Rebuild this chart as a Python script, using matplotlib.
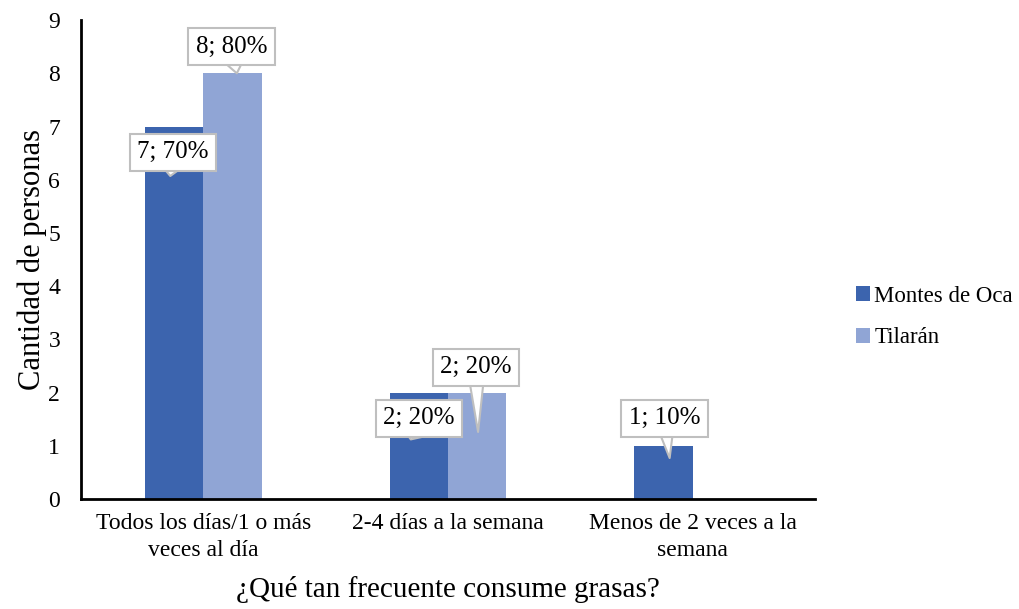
import numpy as np
import matplotlib.pyplot as plt

categories = ['Todos los días/1 o más\nveces al día', '2-4 días a la semana',
              'Menos de 2 veces a la\nsemana']
montes_de_oca = [7, 2, 1]
tilaran = [8, 2, 0]
labels_mdo = ['7; 70%', '2; 20%', '1; 10%']
labels_til = ['8; 80%', '2; 20%', '']

plt.rcParams['font.family'] = ['Liberation Serif', 'DejaVu Serif']

fig = plt.figure(figsize=(10.2, 6.09), dpi=100)
ax = fig.add_axes([0.0794, 0.1806, 0.7196, 0.7864])

x = np.arange(len(categories))
w = 0.238
c1 = '#3C64AE'
c2 = '#90A5D5'
ax.bar(x - w / 2, montes_de_oca, w, color=c1, label='Montes de Oca')
ax.bar(x + w / 2, tilaran, w, color=c2, label='Tilarán')

ax.set_xlim(-0.5, 2.5)
ax.set_ylim(0, 9)
ax.set_yticks(range(10))
ax.set_xticks(x)
ax.set_xticklabels(categories, fontsize=17, linespacing=1.35)
ax.tick_params(axis='y', labelsize=17, length=0, pad=15)
ax.tick_params(axis='x', length=0, pad=10)
for s in ['top', 'right']:
    ax.spines[s].set_visible(False)
for s in ['left', 'bottom']:
    ax.spines[s].set_color('black')
    ax.spines[s].set_linewidth(2)

ax.set_ylabel('Cantidad de personas', fontsize=22, labelpad=1)
ax.set_xlabel('¿Qué tan frecuente consume grasas?', fontsize=21, labelpad=11)

# callouts: (text, tip x, tip y, box x, box y, pointer width in pt)
callouts = [
    (labels_til[0], 0.137, 8.0, 0.115, 8.50, 30),
    (labels_mdo[0], -0.135, 6.07, -0.123, 6.52, 37),
    (labels_til[1], 1.123, 1.26, 1.115, 2.48, 13),
    (labels_mdo[1], 0.848, 1.12, 0.881, 1.52, 50),
    (labels_mdo[2], 1.906, 0.77, 1.885, 1.52, 15),
]
for txt, tx, ty, bx, by, pw in callouts:
    ax.annotate(txt, xy=(tx, ty), xytext=(bx, by), ha='center', va='center',
                fontsize=18,
                bbox=dict(boxstyle='square,pad=0.3', fc='white', ec='#BFBFBF', lw=1.5),
                arrowprops=dict(arrowstyle='wedge,tail_width=%d,shrink_factor=0.5' % pw,
                                mutation_scale=1, patchA=None, shrinkA=0, shrinkB=0,
                                fc='white', ec='#BFBFBF', lw=1.5))

ax.legend(loc='center left', bbox_to_anchor=(1.028, 0.38), frameon=False,
          fontsize=16.5, handlelength=0.6, handleheight=0.6, handletextpad=0.2,
          labelspacing=0.9)

fig.savefig('out.png')
